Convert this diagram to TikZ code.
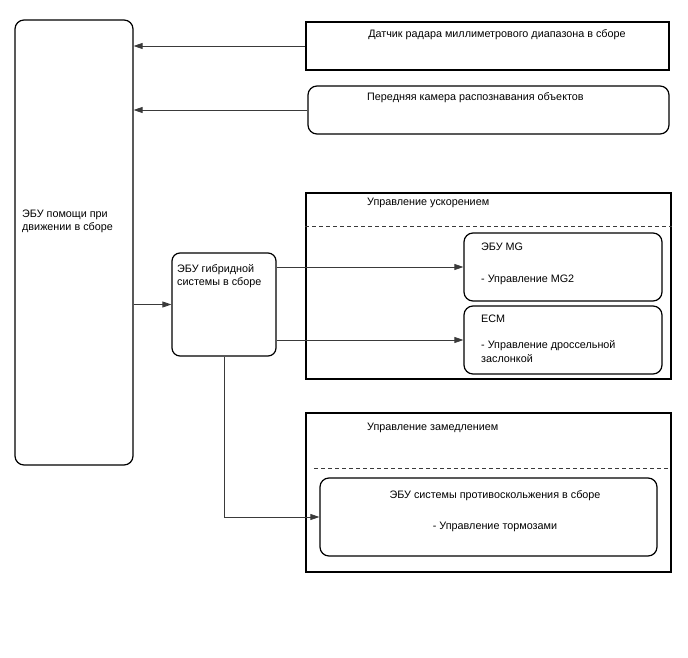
\documentclass[tikz,border=0pt]{standalone}
\usepackage{fontspec}
\setmainfont{Liberation Sans}
\usetikzlibrary{arrows.meta,positioning,calc}
\definecolor{LineGray}{HTML}{3A3A3A}

\begin{document}
\begin{tikzpicture}[
    x=1pt, y=-1pt,
    font=\fontsize{10.8}{13.5}\selectfont,
    unitbox/.style={draw, line width=1.2pt, inner sep=0pt},
    roundbox/.style={unitbox, rounded corners=9pt},
    conn/.style={draw=LineGray, line width=0.8pt, -{Triangle[length=9pt,width=6pt]}},
    sepline/.style={draw=LineGray, line width=0.8pt, dash pattern=on 4pt off 3pt},
    label/.style={inner sep=0pt, align=left}
]

  \useasboundingbox (0,0) rectangle (688,658);

  % =========================================================================
  % ЭБУ ПОМОЩИ ПРИ ДВИЖЕНИИ (СЛЕВА)
  % =========================================================================
  \node[roundbox, minimum width=118pt, minimum height=445pt] (assist) at (74, 242.5) {};
  \node[label, anchor=west] (t_assist) at (22, 221.5) {ЭБУ помощи при\\движении в сборе};

  % =========================================================================
  % ДАТЧИКИ (СВЕРХУ)
  % =========================================================================
  \node[unitbox, minimum width=363pt, minimum height=48pt] (radar) at (487.5, 46) {};
  \node[label] (t_radar) at (497, 35) {Датчик радара миллиметрового диапазона в сборе};

  \node[roundbox, minimum width=361pt, minimum height=48pt] (camera) at (488.5, 110) {};
  \node[label, anchor=west] (t_camera) at (367, 98) {Передняя камера распознавания объектов};

  % =========================================================================
  % ЭБУ ГИБРИДНОЙ СИСТЕМЫ
  % =========================================================================
  \node[roundbox, rounded corners=8pt, minimum width=104pt, minimum height=103pt] (hybrid) at (224, 304.5) {};
  \node[label, anchor=west] (t_hybrid) at (177, 276) {ЭБУ гибридной\\системы в сборе};

  % =========================================================================
  % УПРАВЛЕНИЕ УСКОРЕНИЕМ
  % =========================================================================
  \node[unitbox, minimum width=365pt, minimum height=186pt] (accel) at (488.5, 286) {};
  \node[label, anchor=west] (t_accel) at (367, 203) {Управление ускорением};
  \draw[sepline] ($(accel.north west)+(0,34)$) -- ($(accel.north east)+(0,34)$);

  \node[roundbox, minimum width=198pt, minimum height=68pt] (mg) at (563, 267) {};
  \node[label, anchor=west] (t_mg) at (481, 247) {ЭБУ MG};
  \node[label, anchor=west] (t_mg2) at (481, 280) {- Управление MG2};

  \node[roundbox, minimum width=198pt, minimum height=68pt] (ecm) at (563, 340) {};
  \node[label, anchor=west] (t_ecm) at (481, 319) {ECM};
  \node[label, anchor=west] (t_throttle) at (481, 351.5) {- Управление дроссельной\\заслонкой};

  % =========================================================================
  % УПРАВЛЕНИЕ ЗАМЕДЛЕНИЕМ
  % =========================================================================
  \node[unitbox, minimum width=365pt, minimum height=159pt] (decel) at (488.5, 492.5) {};
  \node[label, anchor=west] (t_decel) at (367, 428) {Управление замедлением};
  \draw[sepline] ($(decel.north west)+(9,56)$) -- ($(decel.north east)+(-2,56)$);

  \node[roundbox, minimum width=337pt, minimum height=78pt] (abs) at (488.5, 517) {};
  \node[label] (t_abs) at (495, 496) {ЭБУ системы противоскольжения в сборе};
  \node[label] (t_brake) at (495, 527) {- Управление тормозами};

  % =========================================================================
  % СВЯЗИ
  % =========================================================================
  \draw[conn] (radar.west) -- (radar.west -| assist.east);
  \draw[conn] (camera.west) -- (camera.west -| assist.east);
  \draw[conn] (assist.east |- hybrid.west) -- (hybrid.west);
  \draw[conn] (hybrid.east |- mg.west) -- (mg.west);
  \draw[conn] (hybrid.east |- ecm.west) -- (ecm.west);
  \draw[conn] (hybrid.south) |- (abs.west);

\end{tikzpicture}
\end{document}
